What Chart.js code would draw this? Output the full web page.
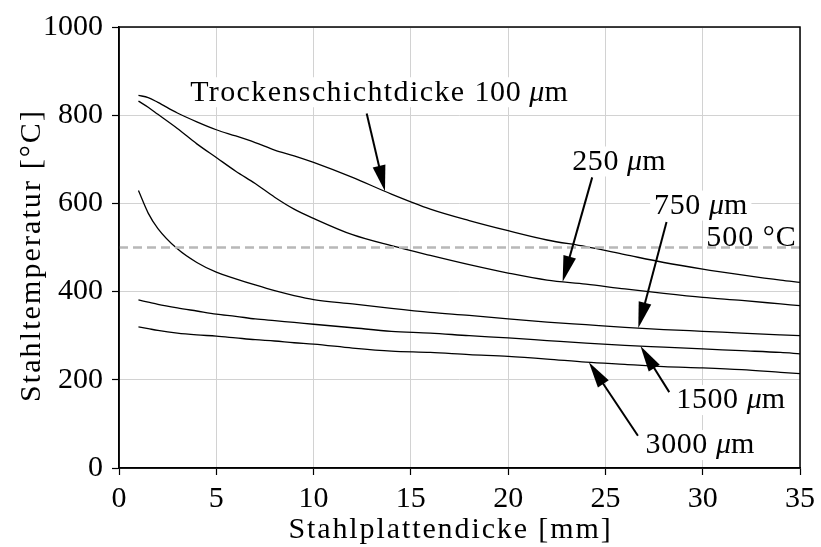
<!DOCTYPE html>
<html>
<head>
<meta charset="utf-8">
<script src="https://cdn.jsdelivr.net/npm/chart.js@4/dist/chart.umd.min.js"></script>
<style>
  html, body { margin: 0; padding: 0; background: #fff; }
  #wrap { width: 821px; height: 547px; }
</style>
</head>
<body>
<div id="wrap"><canvas id="c" width="821" height="547"></canvas></div>
<script>
// Stahlplattendicke [mm]
const plateThickness = [1, 1.5, 2, 3, 4, 5, 6, 7, 8, 9, 10, 12, 14, 16, 18, 20, 22, 24, 26, 28, 30, 32, 34, 35];

// Trockenschichtdicke [µm]
const coatThickness = [100, 250, 750, 1500, 3000];

// Stahltemperatur [°C] for each coating thickness
const temp100  = [845, 840, 829, 805, 785, 767, 753, 738, 721, 708, 693, 659, 621, 587, 561, 538, 517, 502, 484, 466, 451, 438, 426, 421];
const temp250  = [832, 818, 802, 770, 735, 704, 673, 645, 614, 587, 566, 529, 504, 482, 461, 442, 426, 417, 406, 396, 387, 380, 372, 368];
const temp750  = [629, 578, 543, 497, 466, 444, 429, 415, 402, 391, 382, 372, 362, 353, 346, 338, 331, 325, 319, 314, 310, 306, 302, 300];
const temp1500 = [381, 376, 371, 363, 356, 349, 344, 338, 334, 330, 326, 318, 310, 306, 300, 295, 289, 283, 278, 274, 270, 266, 262, 259];
const temp3000 = [320, 316, 312, 306, 302, 299, 295, 291, 288, 284, 281, 272, 265, 262, 257, 253, 247, 240, 235, 230, 227, 223, 217, 214];

const tempSeries = [temp100, temp250, temp750, temp1500, temp3000];

// critical steel temperature
const criticalTemp = 500;

const xTicks = [0, 5, 10, 15, 20, 25, 30, 35];
const yTicks = [0, 200, 400, 600, 800, 1000];

const xTitle = 'Stahlplattendicke [mm]';
const yTitle = 'Stahltemperatur [\u00b0C]';

const FONT_FAMILY = "'Liberation Serif', 'Times New Roman', serif";
const FONT_SIZE = 30;
const tickFont = { family: FONT_FAMILY, size: FONT_SIZE };

// callout labels: anchor of the text (data units), arrow tail (data units), x of the arrow tip on its curve
const callouts = [
  { series: 0, prefix: 'Trockenschichtdicke ', at: [13.36, 833], tail: [12.73, 804], tipX: 13.67 },
  { series: 1, prefix: '', at: [25.69, 676], tail: [24.32, 659], tipX: 22.8 },
  { series: 2, prefix: '', at: [29.9, 576], tail: [28.14, 558], tipX: 26.69 },
  { series: 3, prefix: '', at: [31.44, 135], tail: [28.28, 172], tipX: 26.8 },
  { series: 4, prefix: '', at: [29.86, 33], tail: [26.67, 73], tipX: 24.15 }
];

function valueAt(xs, ys, x) {
  for (let i = 0; i < xs.length - 1; i++) {
    if (x >= xs[i] && x <= xs[i + 1]) {
      const t = (x - xs[i]) / (xs[i + 1] - xs[i]);
      return ys[i] + t * (ys[i + 1] - ys[i]);
    }
  }
  return ys[ys.length - 1];
}

function drawArrow(ctx, x1, y1, x2, y2) {
  const ang = Math.atan2(y2 - y1, x2 - x1);
  const L = 26, W = 6.5;
  const c = Math.cos(ang), s = Math.sin(ang);
  const bx = x2 - L * c, by = y2 - L * s;
  ctx.save();
  ctx.strokeStyle = '#000';
  ctx.fillStyle = '#000';
  ctx.lineWidth = 2;
  ctx.beginPath();
  ctx.moveTo(x1, y1);
  ctx.lineTo(bx + 2 * c, by + 2 * s);
  ctx.stroke();
  ctx.beginPath();
  ctx.moveTo(x2, y2);
  ctx.lineTo(bx - W * s, by + W * c);
  ctx.lineTo(bx + W * s, by - W * c);
  ctx.closePath();
  ctx.fill();
  ctx.restore();
}

function setSpacing(ctx, px) {
  if ('letterSpacing' in ctx) ctx.letterSpacing = px + 'px';
}

// draws text made of [string, italic, spacing] parts, anchored by baseline at (x, y)
function drawRichText(ctx, parts, x, y, align, box) {
  const normal = FONT_SIZE + 'px ' + FONT_FAMILY;
  const italic = 'italic ' + FONT_SIZE + 'px ' + FONT_FAMILY;
  let total = 0;
  const widths = parts.map(([str, it, sp]) => {
    ctx.font = it ? italic : normal;
    setSpacing(ctx, sp || 0);
    const w = ctx.measureText(str).width;
    total += w;
    return w;
  });
  let sx = align === 'center' ? x - total / 2 : align === 'right' ? x - total : x;
  if (box) {
    ctx.fillStyle = '#fff';
    ctx.fillRect(sx - 4, y - FONT_SIZE * 0.78, total + 8, FONT_SIZE * 1.0);
  }
  ctx.fillStyle = '#000';
  ctx.textBaseline = 'alphabetic';
  ctx.textAlign = 'left';
  parts.forEach(([str, it, sp], i) => {
    ctx.font = it ? italic : normal;
    setSpacing(ctx, sp || 0);
    ctx.fillText(str, sx, y);
    sx += widths[i];
  });
  setSpacing(ctx, 0);
}

const overlayPlugin = {
  id: 'overlay',
  afterDatasetsDraw(chart) {
    const { ctx, chartArea: a, scales: { x, y } } = chart;
    ctx.save();
    // callouts with arrows
    callouts.forEach(c => {
      const ys = tempSeries[c.series];
      const tipY = valueAt(plateThickness, ys, c.tipX);
      drawArrow(ctx, x.getPixelForValue(c.tail[0]), y.getPixelForValue(c.tail[1]),
                x.getPixelForValue(c.tipX), y.getPixelForValue(tipY));
      const parts = [];
      if (c.prefix) parts.push([c.prefix, false, 1.4]);
      parts.push([coatThickness[c.series] + ' ', false, 0.6], ['\u03bc', true, 0], ['m', false, 0]);
      drawRichText(ctx, parts, x.getPixelForValue(c.at[0]), y.getPixelForValue(c.at[1]), 'center', true);
    });
    // label of the critical temperature line
    drawRichText(ctx, [[criticalTemp + ' \u00b0C', false, 1]],
                 x.getPixelForValue(34.83), y.getPixelForValue(criticalTemp + 3), 'right', false);
    // plot frame
    ctx.strokeStyle = '#000';
    ctx.lineWidth = 1.5;
    ctx.strokeRect(a.left, a.top, a.right - a.left, a.bottom - a.top);

    // axis titles
    ctx.fillStyle = '#000';
    ctx.font = FONT_SIZE + 'px ' + FONT_FAMILY;
    ctx.textAlign = 'center';
    ctx.textBaseline = 'alphabetic';
    setSpacing(ctx, 1.9);
    ctx.fillText(xTitle, (a.left + a.right) / 2 - 9, 538);
    ctx.save();
    ctx.translate(40, (a.top + a.bottom) / 2 + 8);
    ctx.rotate(-Math.PI / 2);
    setSpacing(ctx, 2.1);
    ctx.fillText(yTitle, 0, 0);
    ctx.restore();
    setSpacing(ctx, 0);
    ctx.restore();
  }
};

const seriesData = tempSeries.map(ys => plateThickness.map((v, i) => ({ x: v, y: ys[i] })));

const datasets = seriesData.map((d, i) => ({
  label: coatThickness[i] + ' \u03bcm',
  data: d,
  borderColor: '#000',
  borderWidth: 1.3,
  cubicInterpolationMode: 'monotone',
  pointRadius: 0,
  fill: false
}));

datasets.unshift({
  label: criticalTemp + ' \u00b0C',
  data: [{ x: xTicks[0], y: criticalTemp }, { x: xTicks[xTicks.length - 1], y: criticalTemp }],
  borderColor: '#b8b8b8',
  borderWidth: 2.5,
  borderDash: [9, 5],
  pointRadius: 0,
  fill: false
});

new Chart(document.getElementById('c'), {
  type: 'line',
  data: { datasets },
  plugins: [overlayPlugin],
  options: {
    responsive: false,
    animation: false,
    devicePixelRatio: 1,
    layout: { padding: { top: 25, right: 21, left: 0, bottom: 0 } },
    plugins: { legend: { display: false }, tooltip: { enabled: false } },
    scales: {
      x: {
        type: 'linear',
        min: xTicks[0],
        max: xTicks[xTicks.length - 1],
        afterBuildTicks: s => { s.ticks = xTicks.map(v => ({ value: v })); },
        ticks: { font: tickFont, color: '#000', padding: 6, maxRotation: 0, autoSkip: false, callback: v => String(v) },
        grid: { color: '#d2d2d2', lineWidth: 1, tickColor: '#000', tickLength: 7, tickWidth: 1.2 },
        border: { color: '#000', width: 1.5 },
        afterFit: s => { s.height = 79; }
      },
      y: {
        type: 'linear',
        min: yTicks[0],
        max: yTicks[yTicks.length - 1],
        afterBuildTicks: s => { s.ticks = yTicks.map(v => ({ value: v })); },
        ticks: { font: tickFont, color: '#000', padding: 9, callback: v => String(v) },
        grid: { color: '#d2d2d2', lineWidth: 1, tickColor: '#000', tickLength: 7, tickWidth: 1.2 },
        border: { color: '#000', width: 1.5 },
        afterFit: s => { s.width = 119; }
      }
    }
  }
});
</script>
</body>
</html>
